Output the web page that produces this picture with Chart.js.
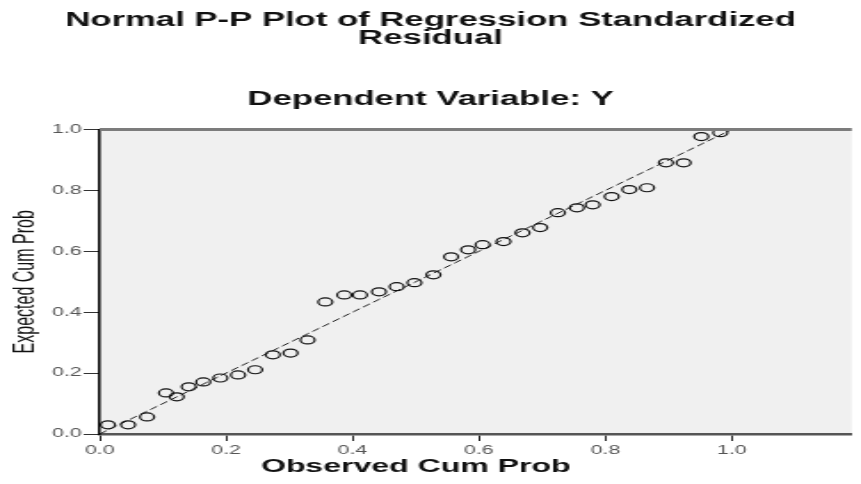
<!DOCTYPE html>
<html>
<head>
<meta charset="utf-8">
<script src="https://cdn.jsdelivr.net/npm/chart.js@4.4.1/dist/chart.umd.min.js"></script>
<style>
  html, body { margin: 0; padding: 0; background: #fff; overflow: hidden; }
  /* the reference is a horizontally stretched SPSS picture */
  #wrap { width: 484px; height: 484px; transform: scaleX(1.779); transform-origin: 0 0; }
</style>
</head>
<body>
<div id="wrap"><canvas id="ppPlot" width="484" height="484"></canvas></div>
<script>
// values
const observedCumProb = [0.013, 0.045, 0.075, 0.105, 0.122, 0.141, 0.164, 0.191, 0.219, 0.246,
                         0.274, 0.302, 0.329, 0.357, 0.387, 0.412, 0.442, 0.470, 0.498, 0.528,
                         0.556, 0.583, 0.606, 0.639, 0.669, 0.697, 0.725, 0.755, 0.780, 0.810,
                         0.838, 0.866, 0.896, 0.924, 0.952, 0.982];
const expectedCumProb = [0.030, 0.030, 0.056, 0.135, 0.122, 0.155, 0.171, 0.184, 0.194, 0.211,
                         0.260, 0.266, 0.309, 0.434, 0.457, 0.457, 0.467, 0.484, 0.497, 0.523,
                         0.582, 0.605, 0.622, 0.632, 0.661, 0.678, 0.727, 0.743, 0.753, 0.780,
                         0.803, 0.809, 0.891, 0.891, 0.977, 0.990];
const refLineX = [0, 1];
const refLineY = [0, 1];
const xTickValues = [0, 0.2, 0.4, 0.6, 0.8, 1.0];
const yTickValues = [0, 0.2, 0.4, 0.6, 0.8, 1.0];

const chartTitle = ['Normal P-P Plot of Regression Standardized', 'Residual'];
const chartSubtitle = 'Dependent Variable: Y';
const xTitleText = 'Observed Cum Prob';
const yTitleText = 'Expected Cum Prob';

const family = '"Liberation Sans", Arial, Helvetica, sans-serif';

// grey plot background, top border and the x title (centred on 0..1 like SPSS)
const plotFrame = {
    id: 'plotFrame',
    beforeDraw(chart) {
        const { ctx, chartArea: a } = chart;
        ctx.save();
        ctx.fillStyle = '#f0f0f0';
        ctx.fillRect(a.left, a.top, a.right - a.left, a.bottom - a.top);
        ctx.restore();
    },
    afterDraw(chart) {
        const { ctx, chartArea: a, scales } = chart;
        ctx.save();
        ctx.strokeStyle = '#7c7c7c';
        ctx.lineWidth = 3;
        ctx.beginPath();
        ctx.moveTo(a.left, a.top);
        ctx.lineTo(a.right, a.top);
        ctx.stroke();

        ctx.fillStyle = '#111';
        ctx.font = 'bold 18px ' + family;
        ctx.textAlign = 'center';
        ctx.textBaseline = 'middle';
        ctx.fillText(xTitleText, scales.x.getPixelForValue(0.5), a.bottom + 33);
        ctx.restore();
    }
};

const ctx = document.getElementById('ppPlot').getContext('2d');
new Chart(ctx, {
    type: 'scatter',
    data: {
        datasets: [
            {
                data: observedCumProb.map((v, i) => ({ x: v, y: expectedCumProb[i] })),
                pointStyle: 'circle',
                pointRadius: 4,
                pointBorderWidth: 1.2,
                pointBorderColor: '#111',
                pointBackgroundColor: 'rgba(0,0,0,0)',
                clip: false
            },
            {
                type: 'line',
                data: refLineX.map((v, i) => ({ x: v, y: refLineY[i] })),
                borderColor: '#222',
                borderWidth: 1,
                borderDash: [5, 2.5],
                pointRadius: 0,
                fill: false
            }
        ]
    },
    options: {
        responsive: false,
        animation: false,
        layout: { padding: { left: 0, right: 0, top: 0, bottom: 27 } },
        plugins: {
            legend: { display: false },
            tooltip: { enabled: false },
            title: {
                display: true,
                text: chartTitle,
                color: '#111',
                font: { family, size: 19.5, weight: 'bold', lineHeight: 0.9 },
                padding: { top: 12, bottom: 43 }
            },
            subtitle: {
                display: true,
                text: chartSubtitle,
                color: '#111',
                font: { family, size: 19.5, weight: 'bold', lineHeight: 1.0 },
                padding: { top: 0, bottom: 20 }
            }
        },
        scales: {
            x: {
                type: 'linear',
                min: 0,
                max: 1.19,
                afterBuildTicks: s => { s.ticks = xTickValues.map(v => ({ value: v })); },
                afterFit: s => { s.height = 23; },
                grid: { drawOnChartArea: false, tickLength: 7, color: '#222' },
                border: { color: '#555', width: 2.5 },
                ticks: {
                    callback: v => Number(v).toFixed(1),
                    color: '#555',
                    font: { family, size: 12 },
                    padding: 2,
                    maxRotation: 0
                }
            },
            y: {
                type: 'linear',
                min: 0,
                max: 1,
                afterBuildTicks: s => { s.ticks = yTickValues.map(v => ({ value: v })); },
                afterFit: s => { s.width = 56; },
                grid: { drawOnChartArea: false, tickLength: 9, color: '#333' },
                border: { color: '#000', width: 1.5 },
                ticks: {
                    callback: v => Number(v).toFixed(1),
                    color: '#555',
                    font: { family, size: 12 },
                    padding: 1
                },
                title: {
                    display: true,
                    text: yTitleText,
                    color: '#111',
                    font: { family, size: 16 },
                    padding: { top: 5, bottom: 0 }
                }
            }
        }
    },
    plugins: [plotFrame]
});
</script>
</body>
</html>
